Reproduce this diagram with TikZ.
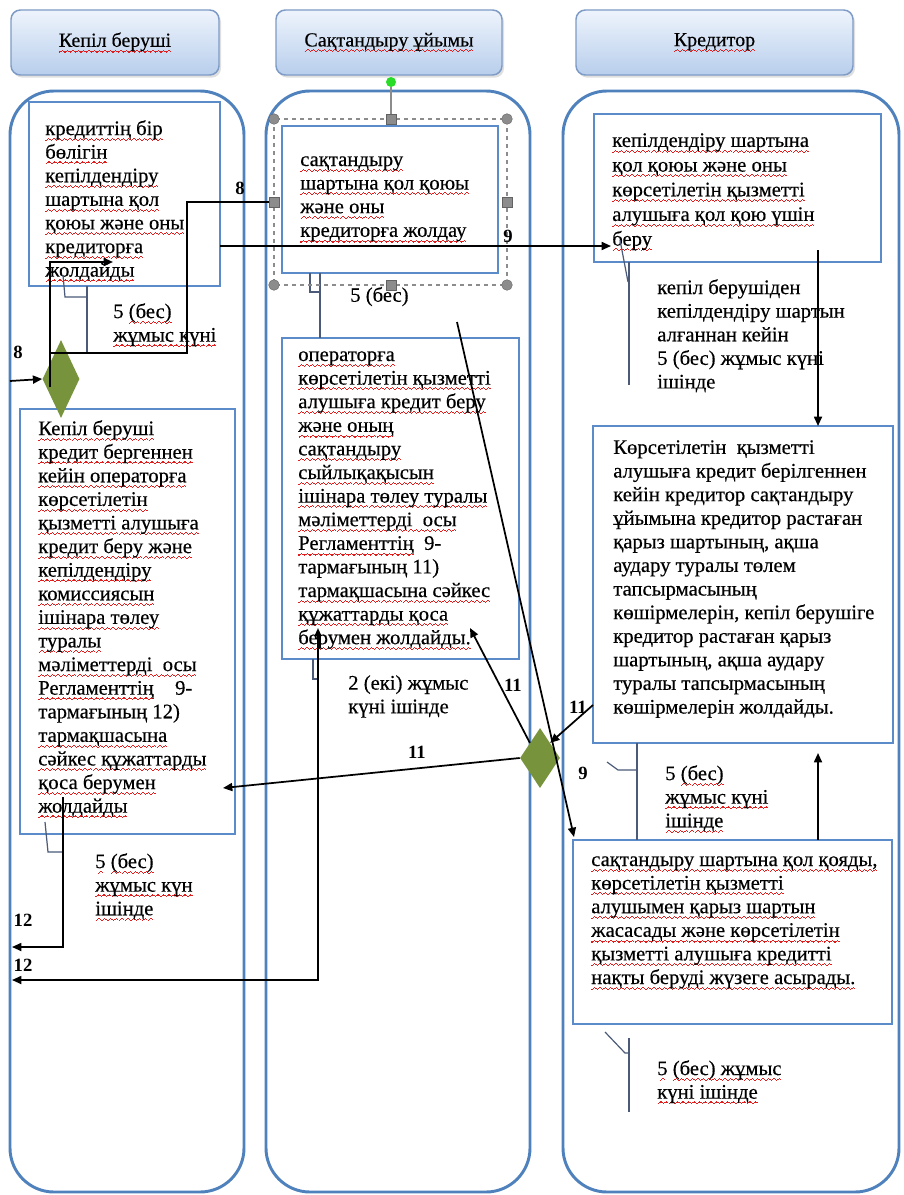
\documentclass[tikz,border=0pt]{standalone}
\usepackage{fontspec}
\setmainfont{Liberation Serif}
\newfontfamily\heavyfont{Liberation Serif}[FakeBold=0.35]
\usetikzlibrary{arrows.meta,fit,shadows,shapes.geometric}
\definecolor{laneblue}{RGB}{79,129,189}
\definecolor{boxblue}{RGB}{91,139,201}
\definecolor{hdrtop}{RGB}{238,244,252}
\definecolor{hdrbot}{RGB}{184,206,236}
\definecolor{hdredge}{RGB}{125,155,198}
\definecolor{dgreen}{RGB}{119,147,60}
\definecolor{callc}{RGB}{74,90,120}
\definecolor{hgray}{RGB}{140,140,140}
\definecolor{sqred}{RGB}{225,30,30}
\definecolor{gdot}{RGB}{40,220,40}
\newcommand\wavebit{\hbox{\rule[-4.3pt]{1pt}{0.8pt}\rule[-3.6pt]{1pt}{0.8pt}\rule[-2.9pt]{1pt}{0.8pt}\rule[-3.6pt]{1pt}{0.8pt}}}
\newcommand\sq[1]{\setbox0\hbox{#1}\rlap{\textcolor{sqred}{\hbox to \wd0{\xleaders\wavebit\hfill}}}\box0\relax}
\tikzset{
 lanebox/.style={draw=laneblue, line width=2.2pt, rounded corners=33pt, inner sep=0pt},
 hdr/.style={draw=hdredge, line width=1.1pt, rounded corners=7pt, top color=hdrtop, bottom color=hdrbot, inner sep=0pt, drop shadow={opacity=0.25, shadow xshift=1.5pt, shadow yshift=-2pt}},
 box/.style={draw=boxblue, line width=2.2pt, inner sep=0pt, fill=white},
 txt/.style={anchor=north west, inner sep=0pt, align=left, font=\heavyfont\fontsize{15.5}{17.7}\selectfont, execute at begin node=\strut},
 htxt/.style={inner sep=0pt, font=\heavyfont\fontsize{15}{18}\selectfont},
 num/.style={inner sep=0pt, font=\fontsize{14}{16}\selectfont\bfseries},
 conn/.style={draw=black, line width=1.3pt},
 arr/.style={conn, -{Triangle[length=7pt,width=6pt]}},
 callout/.style={draw=callc, line width=0.9pt},
 dmd/.style={diamond, fill=dgreen, inner sep=0pt},
 handle/.style={fill=hgray, draw=hgray!70!black, line width=0.3pt, inner sep=0pt}
}
\begin{document}
\begin{tikzpicture}[x=0.75pt,y=-0.75pt]
\useasboundingbox (0,0) rectangle (903,1195);
\fill[white] (0,0) rectangle (903,1195);
% headers
\node[hdr, fit={(11,10) (219,75)}] (h1) {};
\node[hdr, fit={(276,10) (502,75)}] (h2) {};
\node[hdr, fit={(576,10) (853,75)}] (h3) {};
\node[htxt] (h1t) at (h1.center) {\sq{Кепіл беруші}};
\node[htxt] (h2t) at (h2.center) {\sq{Сақтандыру ұйымы}};
\node[htxt] (h3t) at (h3.center) {\sq{Кредитор}};
% lanes
\node[lanebox, fit={(10,91) (244,1192)}] (l1) {};
\node[lanebox, fit={(266,91) (530,1192)}] (l2) {};
\node[lanebox, fit={(563,91) (899,1192)}] (l3) {};
% boxes
\node[box, fit={(29,102) (220,286)}] (b1) {};
\node[box, fit={(282,126) (498,273)}] (b2) {};
\node[box, fit={(594,114) (881,262)}] (b3) {};
\node[box, fit={(20,409) (235,834)}] (b4) {};
\node[box, fit={(282,338) (519,659)}] (b5) {};
\node[box, fit={(593,426) (893,743)}] (b6) {};
\node[box, fit={(573,840) (892,1024)}] (b7) {};
% box texts
\node[txt] (t1) at (45,120) {\sq{кредиттің бір}\\\sq{бөлігін}\\\sq{кепілдендіру}\\\sq{шартына қол}\\\sq{қоюы және оны}\\\sq{кредиторға}\\\sq{жолдайды}};
\node[txt] (t2) at (300,156) {\sq{сақтандыру}\\\sq{шартына қол қоюы}\\\sq{және оны}\\\sq{кредиторға жолдау}};
\node[txt, font=\heavyfont\fontsize{15.5}{18.5}\selectfont] (t3) at (612,133) {\sq{кепілдендіру шартына}\\\sq{қол қоюы және оны}\\\sq{көрсетілетін қызметті}\\\sq{алушыға қол қою үшін}\\\sq{беру}};
\node[txt] (t4) at (38,420) {\sq{Кепіл беруші}\\\sq{кредит бергеннен}\\\sq{кейін операторға}\\\sq{көрсетілетін}\\\sq{қызметті алушыға}\\\sq{кредит беру және}\\\sq{кепілдендіру}\\\sq{комиссиясын}\\\sq{ішінара төлеу}\\\sq{туралы}\\\sq{мәліметтерді\ \ осы}\\\sq{Регламенттің}\hspace{16pt}9-\\тармағының 12)\\\sq{тармақшасына}\\\sq{сәйкес құжаттарды}\\\sq{қоса берумен}\\\sq{жолдайды}};
\node[txt] (t5) at (298,351) {\sq{операторға}\\\sq{көрсетілетін қызметті}\\\sq{алушыға кредит беру}\\\sq{және оның}\\\sq{сақтандыру}\\\sq{сыйлықақысын}\\\sq{ішінара төлеу туралы}\\\sq{мәліметтерді\ \ осы}\\\sq{Регламенттің}\ \ 9-\\тармағының 11)\\\sq{тармақшасына сәйкес}\\\sq{құжаттарды қоса}\\\sq{берумен жолдайды.}};
\node[txt] (t6) at (613,440) {Көрсетілетін\ \ қызметті\\алушыға кредит берілгеннен\\кейін кредитор сақтандыру\\ұйымына кредитор растаған\\қарыз шартының, ақша\\аудару туралы төлем\\тапсырмасының\\көшірмелерін, кепіл берушіге\\кредитор растаған қарыз\\шартының, ақша аудару\\туралы тапсырмасының\\көшірмелерін жолдайды.};
\node[txt] (t7) at (591,856) {\sq{сақтандыру шартына қол қояды,}\\\sq{көрсетілетін қызметті}\\\sq{алушымен қарыз шартын}\\\sq{жасасады және көрсетілетін}\\\sq{қызметті алушыға кредитті}\\\sq{нақты беруді жүзеге асырады.}};
% free labels
\node[txt] (L1) at (113,303) {5 \sq{(бес)}\\\sq{жұмыс күні}};
\node[txt] (L2) at (350,285) {5 (бес)};
\node[txt] (L3) at (657,279) {кепіл берушіден\\кепілдендіру шартын\\алғаннан кейін\\5 (бес) жұмыс күні\\ішінде};
\node[txt] (L4) at (348,675) {2 (екі) жұмыс\\күні ішінде};
\node[txt] (L5) at (665,765) {5 \sq{(бес)}\\\sq{жұмыс күні}\\\sq{ішінде}};
\node[txt] (L6) at (95,853) {\sq{5} \sq{(бес)}\\\sq{жұмыс күн}\\\sq{ішінде}};
\node[txt] (L7) at (657,1060) {\sq{5} \sq{(бес) жұмыс}\\\sq{күні ішінде}};
% diamonds
\node[dmd, minimum width=27.75pt, minimum height=58.5pt] (d1) at (61,379) {};
\node[dmd, minimum width=30pt, minimum height=45pt] (d2) at (540,758) {};
% callout lines
\draw[callout] (63,275) -- (65,297) -- (87,297);
\draw[callout] (87,286) -- (87,353);
\draw[callout] (310,273) -- (310,292) -- (320,292);
\draw[callout] (320,273) -- (320,338);
\draw[callout] (620,240) -- (628,282);
\draw[callout] (629,262) -- (629,385);
\draw[callout] (45,822) -- (48,852) -- (63,852);
\draw[callout] (313,659) -- (313,679) -- (318,679);
\draw[callout] (607,762) -- (618,770) -- (637,770);
\draw[callout] (637,743) -- (637,840);
\draw[callout] (605,1032) -- (625,1053) -- (629,1053);
\draw[callout] (629,1038) -- (629,1112);
% selection frame around b2
\draw[hgray, dashed, line width=0.8pt] (274,119) rectangle (507,285);
\node[handle, circle, minimum size=8pt] (hnw) at (274,119) {};
\node[handle, circle, minimum size=8pt] (hne) at (507,119) {};
\node[handle, circle, minimum size=8pt] (hsw) at (274,285) {};
\node[handle, circle, minimum size=8pt] (hse) at (507,285) {};
\node[handle, rectangle, minimum size=7.5pt] (hn) at (391,119) {};
\node[handle, rectangle, minimum size=7.5pt] (hs) at (391,285) {};
\node[handle, rectangle, minimum size=7.5pt] (he) at (507,202) {};
\node[circle, fill=gdot, inner sep=0pt, minimum size=7.5pt] (grn) at (391,82) {};
\draw[hgray, line width=0.9pt] (grn) -- (hn);
% coordinates
\coordinate (j8) at (50,353);
\coordinate (d1in) at (50,387);
\coordinate (b1in) at (113,262);
\coordinate (lane1w) at (10,381);
\coordinate (b1e) at (220,246);
\coordinate (b3in) at (611,246);
\coordinate (b3s) at (818,250);
\coordinate (b6n) at (818,426);
\coordinate (l2s) at (457,322);
\coordinate (b7nw) at (574,837);
\coordinate (b5in) at (470,628);
\coordinate (b6w) at (593,705);
\coordinate (b4in) at (223,788);
\coordinate (b4s) at (63,797);
\coordinate (l1a) at (12,947);
\coordinate (b5s) at (318,628);
\coordinate (l1b) at (12,980);
\coordinate (b7n) at (818,840);
\coordinate (b6s) at (818,753);
% connectors
\node[handle, rectangle, minimum size=7.5pt] (hw) at (274,202) {};
\draw[conn] (hw.west) -- (187,202) -- (187,353) -- (j8);
\draw[arr] (d1in) |- (b1in);
\draw[arr] (lane1w) -- (d1.west);
\draw[arr] (b1e) -- (b3in);
\draw[arr] (b3s) -- (b6n);
\draw[arr] (l2s) -- (b7nw);
\draw[arr] (d2.north west) -- (b5in);
\draw[arr] (b6w) -- (d2.north east);
\draw[arr] (d2.west) -- (b4in);
\draw[arr] (b4s) |- (l1a);
\draw[conn, {Triangle[length=6pt,width=5pt]}-{Triangle[length=7pt,width=6pt]}] (b5s) |- (l1b);
\draw[arr] (b7n) -- (b6s);
% number labels
\node[num] (n8a) at (240,188) {8};
\node[num] (n8b) at (18,352) {8};
\node[num] (n9a) at (508,236) {9};
\node[num] (n11a) at (513,685) {11};
\node[num] (n11b) at (578,707) {11};
\node[num] (n11c) at (417,752) {11};
\node[num] (n9b) at (583,773) {9};
\node[num] (n12a) at (23,920) {12};
\node[num] (n12b) at (23,965) {12};
\end{tikzpicture}
\end{document}
